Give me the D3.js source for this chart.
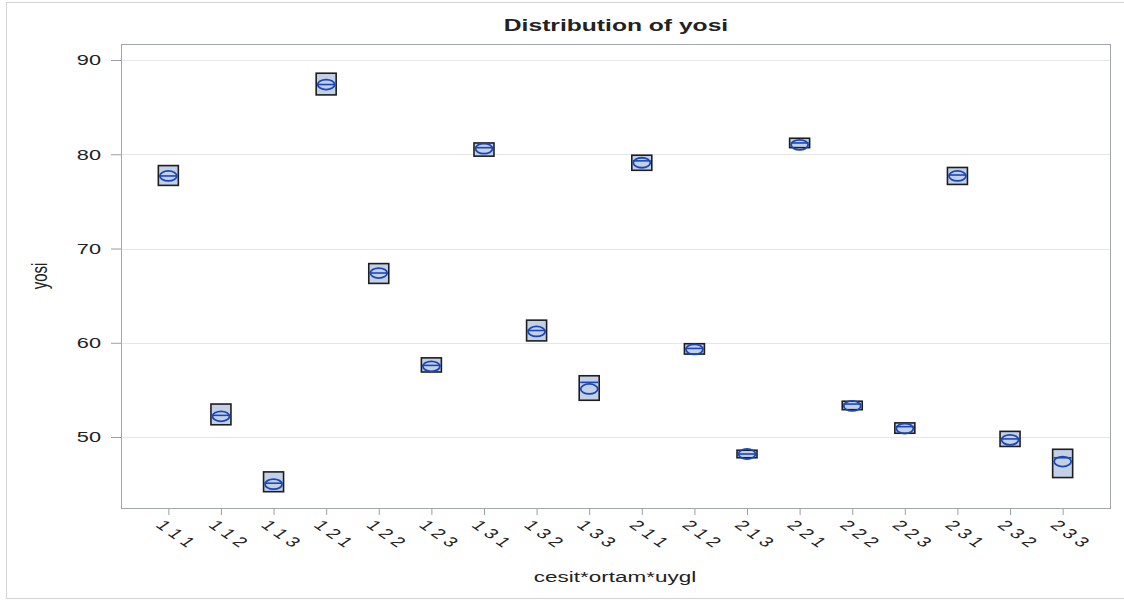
<!DOCTYPE html>
<html>
<head>
<meta charset="utf-8">
<script src="https://cdn.jsdelivr.net/npm/d3@7"></script>
<style>
  body { margin: 0; background: #fff; }
  text { font-family: "Liberation Sans", Arial, sans-serif; fill: #222; }
</style>
</head>
<body>
<div id="chart"></div>
<script>
// groups cesit*ortam*uygl
const groups = ['1 1 1', '1 1 2', '1 1 3', '1 2 1', '1 2 2', '1 2 3', '1 3 1', '1 3 2', '1 3 3',
  '2 1 1', '2 1 2', '2 1 3', '2 2 1', '2 2 2', '2 2 3', '2 3 1', '2 3 2', '2 3 3'];
const q1Values = [76.7, 51.3, 44.2, 86.3, 66.3, 56.9, 79.8, 60.2, 53.9, 78.3, 58.8, 47.8, 80.7, 52.9, 50.4, 76.8, 49.0, 45.7];
const q3Values = [78.8, 53.5, 46.3, 88.6, 68.4, 58.4, 81.2, 62.4, 56.5, 79.9, 59.9, 48.6, 81.7, 53.8, 51.5, 78.6, 50.6, 48.7];
const medianValues = [77.7, 52.3, 45.1, 87.4, 67.4, 57.6, 80.7, 61.3, 55.8, 79.3, 59.4, 48.2, 81.2, 53.5, 51.1, 77.8, 49.8, 47.8];
const meanValues = [77.7, 52.2, 45.0, 87.4, 67.4, 57.5, 80.6, 61.2, 55.1, 79.1, 59.3, 48.2, 81.0, 53.3, 50.9, 77.7, 49.7, 47.4];
const yTicks = [50, 60, 70, 80, 90];

const config = {
  svgWidth: 1124, svgHeight: 601,
  left: 121, top: 44, right: 1110, bottom: 508,
  stretch: 1.45 // the original picture is stretched sideways
};
const sx = config.stretch;

const svg = d3.select('#chart').append('svg')
  .attr('width', config.svgWidth)
  .attr('height', config.svgHeight);

// outer frame (right edge falls outside the picture)
svg.append('rect')
  .attr('x', 6.5).attr('y', 2.5)
  .attr('width', 1130).attr('height', 596)
  .attr('fill', 'none').attr('stroke', '#d4d4d4');

const data = groups.map((g, i) => ({
  group: g, q1: q1Values[i], q3: q3Values[i], median: medianValues[i], mean: meanValues[i]
}));

const x = d3.scalePoint()
  .domain(groups)
  .range([config.left, config.right])
  .padding(0.9);

const y = d3.scaleLinear()
  .domain([42.47, 91.7])
  .range([config.bottom, config.top]);

// grid lines
svg.selectAll('.grid')
  .data(yTicks)
  .join('line')
  .attr('class', 'grid')
  .attr('x1', config.left).attr('x2', config.right)
  .attr('y1', d => Math.round(y(d)) + 0.5)
  .attr('y2', d => Math.round(y(d)) + 0.5)
  .attr('stroke', '#e6e6e6');

// axes
const axisY = svg.append('g')
  .attr('transform', `translate(${config.left},0)`)
  .call(d3.axisLeft(y).tickValues(yTicks).tickSize(10));
axisY.select('.domain').remove();
axisY.selectAll('line').attr('stroke', '#9a9ea3');
axisY.selectAll('text')
  .style('font-size', '15px')
  .attr('fill', '#222')
  .attr('x', 0)
  .attr('transform', `translate(-20,0) scale(${sx},1)`);

const axisX = svg.append('g')
  .attr('transform', `translate(0,${config.bottom})`)
  .call(d3.axisBottom(x).tickSize(7));
axisX.select('.domain').remove();
axisX.selectAll('line').attr('stroke', '#9a9ea3');
axisX.selectAll('text')
  .style('font-size', '14px')
  .attr('fill', '#222')
  .attr('text-anchor', 'start')
  .attr('dy', null)
  .attr('y', 0)
  .attr('transform', `translate(-14,18) scale(${sx},1) rotate(45)`);

// plot frame
svg.append('rect')
  .attr('x', config.left + 0.5).attr('y', config.top + 0.5)
  .attr('width', config.right - config.left).attr('height', config.bottom - config.top)
  .attr('fill', 'none').attr('stroke', '#a3a7ab');

// boxes
const boxW = 20;
const boxes = svg.selectAll('.box')
  .data(data)
  .join('g')
  .attr('class', 'box');

boxes.append('rect')
  .attr('x', d => x(d.group) - boxW / 2)
  .attr('y', d => y(d.q3))
  .attr('width', boxW)
  .attr('height', d => y(d.q1) - y(d.q3))
  .attr('fill', '#c3d0e6')
  .attr('stroke', '#1e1e1e')
  .attr('stroke-width', 1.6);

boxes.append('line')
  .attr('x1', d => x(d.group) - boxW / 2 + 1)
  .attr('x2', d => x(d.group) + boxW / 2 - 1)
  .attr('y1', d => y(d.median))
  .attr('y2', d => y(d.median))
  .attr('stroke', '#1a47b8')
  .attr('stroke-width', 1.6);

boxes.append('ellipse')
  .attr('cx', d => x(d.group))
  .attr('cy', d => y(d.mean))
  .attr('rx', 8.5)
  .attr('ry', 5)
  .attr('fill', 'none')
  .attr('stroke', '#1a47b8')
  .attr('stroke-width', 1.8);

// title and labels
svg.append('text')
  .attr('transform', `translate(616,31) scale(${sx},1)`)
  .attr('text-anchor', 'middle')
  .style('font-size', '17px')
  .style('font-weight', 'bold')
  .attr('fill', '#000')
  .text('Distribution of yosi');

svg.append('text')
  .attr('transform', `translate(47,276) scale(${sx},1) rotate(-90)`)
  .attr('text-anchor', 'middle')
  .style('font-size', '15px')
  .text('yosi');

svg.append('text')
  .attr('transform', `translate(615,582) scale(${sx},1)`)
  .attr('text-anchor', 'middle')
  .style('font-size', '15.5px')
  .text('cesit*ortam*uygl');
</script>
</body>
</html>
